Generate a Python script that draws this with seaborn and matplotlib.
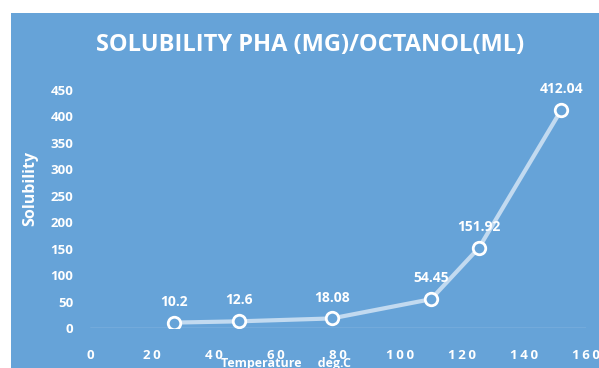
import numpy as np
import pandas as pd
import seaborn as sns
import matplotlib.pyplot as plt
from matplotlib.patches import Rectangle

# data
temperature = [27, 48, 78, 110, 125.5, 152]
solubility = [10.2, 12.6, 18.08, 54.45, 151.92, 412.04]
point_labels = ['10.2', '12.6', '18.08', '54.45', '151.92', '412.04']
x_ticks = [0, 20, 40, 60, 80, 100, 120, 140, 160]
y_ticks = [0, 50, 100, 150, 200, 250, 300, 350, 400, 450]

df = pd.DataFrame({'temp': temperature, 'sol': solubility})

sns.set_theme(style="white")
plt.rcParams['font.family'] = ['Open Sans', 'DejaVu Sans']

BLUE = '#66a3d8'
W, H = 599, 368

fig = plt.figure(figsize=(W / 100, H / 100), dpi=100, facecolor='white')

# background axes holding the blue chart area
bg = fig.add_axes([0, 0, 1, 1], zorder=0)
bg.axis('off')
bg.add_patch(Rectangle((10.5 / W, 0), 1, 1 - 13 / H, transform=bg.transAxes,
                       facecolor=BLUE, edgecolor='none'))

ax = fig.add_axes([90 / W, 40 / H, 496 / W, 238 / H], zorder=1)
ax.set_facecolor('none')

sns.lineplot(data=df, x='temp', y='sol', ax=ax, color='#c2daf0', linewidth=3,
             marker='o', markersize=9, markerfacecolor=BLUE,
             markeredgecolor='white', markeredgewidth=2, zorder=3)

for t, s, lab in zip(temperature, solubility, point_labels):
    ax.annotate(lab, (t, s), xytext=(0, 10), textcoords='offset points',
                ha='center', va='bottom', color='white', fontsize=10, fontweight='bold')

ax.axhline(0, color='#a9c9ea', linewidth=1, zorder=1)

ax.set_xlim(0, 160)
ax.set_ylim(0, 450)
ax.set_xticks(x_ticks)
ax.set_yticks(y_ticks)
ax.set_xticklabels(['\u2009'.join(str(v)) for v in x_ticks])
ax.tick_params(axis='x', colors='white', labelsize=9.5, length=0, pad=15)
ax.tick_params(axis='y', colors='white', labelsize=9.5, length=0, pad=12)
for lab in ax.get_xticklabels() + ax.get_yticklabels():
    lab.set_fontweight('bold')
for sp in ax.spines.values():
    sp.set_visible(False)

ax.set_xlabel('')
ax.set_ylabel('')
fig.text(30 / W, 1 - 188 / H, 'Solubility', rotation=90, ha='center', va='center',
         color='white', fontsize=11.5, fontweight='bold')
fig.text(286 / W, 1 - 363 / H, 'Temperature     deg.C', ha='center', va='center',
         color='white', fontsize=9, fontweight='bold')
fig.text(310 / W, 1 - 45 / H, 'SOLUBILITY PHA (MG)/OCTANOL(ML)', ha='center', va='center',
         color='white', fontsize=17, fontweight='bold')

fig.savefig('out.png', dpi=100, facecolor='white')
